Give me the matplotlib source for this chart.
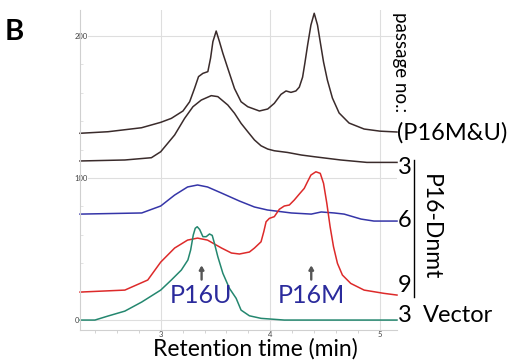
import numpy as np
import matplotlib
matplotlib.use("Agg")
import matplotlib.pyplot as plt
from matplotlib.lines import Line2D

plt.rcParams['font.family'] = ['Lato', 'DejaVu Sans']

# retention time (min) / signal
mu_x = [2.264, 2.52, 2.825, 3.0, 3.097, 3.203, 3.264, 3.309, 3.345, 3.385, 3.43, 3.455, 3.476,
        3.506, 3.536, 3.567, 3.612, 3.673, 3.733, 3.794, 3.9, 3.976, 4.036, 4.097, 4.143, 4.188,
        4.233, 4.264, 4.294, 4.315, 4.34, 4.37, 4.4, 4.43, 4.455, 4.485, 4.52, 4.566, 4.627,
        4.718, 4.855, 5.0, 5.155]
mu_y = [131.5, 132.6, 135.4, 139.2, 142, 147.2, 153.7, 163.2, 171.4, 173.7, 174.9, 184.5, 196,
        203.5, 196, 187.8, 177.2, 163, 153.7, 150.2, 147.2, 148.6, 152.6, 158.9, 161.3, 160.3,
        161.3, 164, 171, 181, 193.7, 207.7, 216, 207.7, 195.8, 181.7, 169, 156.3, 145.8,
        138.7, 134.5, 133, 132.4]

p3_x = [2.264, 2.673, 2.915, 3.0, 3.127, 3.218, 3.294, 3.37, 3.461, 3.521, 3.612, 3.673, 3.733,
        3.794, 3.855, 3.915, 3.976, 4.036, 4.157, 4.282, 4.4, 4.642, 4.88, 5.155]
p3_y = [112, 112.7, 114.3, 118.5, 130.3, 142, 150.2, 154.9, 158, 157.3, 151.4, 145.6, 138.5,
        132.6, 126.8, 122.7, 120.4, 119.2, 118, 116.2, 115, 112.7, 111, 111]

p6_x = [2.264, 2.827, 3.0, 3.127, 3.245, 3.336, 3.427, 3.555, 3.718, 3.855, 3.973, 4.191,
        4.373, 4.464, 4.582, 4.673, 4.827, 4.945, 5.155]
p6_y = [74.6, 75.4, 80.3, 88.0, 93.7, 95.1, 93.7, 89.4, 83.8, 79.6, 77.5, 75.4,
        74.6, 76.1, 75.4, 74.6, 71.1, 69.7, 69.7]

p9_x = [2.264, 2.673, 2.882, 3.0, 3.127, 3.245, 3.336, 3.427, 3.555, 3.645, 3.718, 3.809,
        3.855, 3.915, 3.94, 3.961, 3.991, 4.036, 4.082, 4.127, 4.173, 4.218, 4.264, 4.309,
        4.339, 4.37, 4.415, 4.455, 4.485, 4.515, 4.545, 4.576, 4.612, 4.657, 4.733, 4.855,
        5.036, 5.155]
p9_y = [19.7, 21.1, 28.2, 40.8, 50.7, 56.3, 57.7, 56.3, 50.7, 47.2, 46.5, 47.9,
        50.7, 55.1, 62.2, 69.2, 71.6, 72.8, 78, 80.3, 81, 84.5, 88.7, 92.7,
        97.4, 102.1, 104.4, 103.3, 96.3, 82.2, 65.7, 51.6, 39.9, 31.7, 25.8, 21.1,
        18.8, 17.6]

vec_x = [2.264, 2.4, 2.518, 2.673, 2.827, 3.0, 3.097, 3.188, 3.248, 3.273, 3.297, 3.315, 3.333,
         3.355, 3.385, 3.415, 3.445, 3.47, 3.49, 3.521, 3.567, 3.627, 3.688, 3.733, 3.809,
         3.915, 4.127, 4.536, 5.155]
vec_y = [0, 0, 2.8, 6.3, 12.7, 21.1, 28.2, 35.2, 42.3, 49.3, 59.9, 64.6, 65.7,
         63.8, 58.7, 58.7, 60.6, 59.6, 54, 44.6, 32.9, 22.3, 15.3, 7, 3,
         1.2, 0, 0, 0]

traces = [(mu_x, mu_y, '#3a2b2b'), (p3_x, p3_y, '#3a2b2b'), (p6_x, p6_y, '#3535a8'),
          (p9_x, p9_y, '#dd2a2a'), (vec_x, vec_y, '#24876f')]

fig = plt.figure(figsize=(5.17, 3.64), dpi=100)
ax = fig.add_axes([80 / 517, 1 - 330 / 364, 317 / 517, 320 / 364])

for xs, ys, c in traces:
    ax.plot(xs, ys, color=c, lw=1.1, clip_on=False, solid_joinstyle='round')

ax.set_xlim(2.264, 5.155)
ax.set_ylim(-7, 218.3)
ax.set_xticks([3, 4, 5])
ax.set_yticks([0, 100, 200])
ax.set_xticks(np.arange(2.4, 5.1, 0.2), minor=True)
ax.set_yticks(np.arange(0, 220, 20), minor=True)
ax.grid(True, which='major', color='#dedede', lw=0.8)
ax.tick_params(which='both', length=0, labelsize=5.5, labelcolor='#444444')
ax.tick_params(axis='x', which='minor', length=2, color='#cccccc', direction='out')
ax.tick_params(axis='y', which='minor', length=2, color='#dddddd', direction='in')
ax.tick_params(axis='x', pad=1)
ax.tick_params(axis='y', pad=4)
for lab in ax.get_yticklabels():
    lab.set_ha('left')
    lab.set_bbox(dict(facecolor='white', edgecolor='none', pad=0))
for s in ['top', 'right']:
    ax.spines[s].set_visible(False)
for s in ['left', 'bottom']:
    ax.spines[s].set_color('#d0d0d0')
    ax.spines[s].set_linewidth(0.8)

# peak labels
navy = '#2b2b9c'
ax.text(3.364, 17.6, 'P16U', color=navy, fontsize=18, ha='center', va='center')
ax.text(4.373, 17.6, 'P16M', color=navy, fontsize=18, ha='center', va='center')
for xa in [3.373, 4.373]:
    ax.annotate('', xy=(xa, 38.5), xytext=(xa, 28.5),
                arrowprops=dict(arrowstyle='-|>,head_width=0.13,head_length=0.22',
                                color='#555555', lw=1.7, shrinkA=0, shrinkB=0))

def fx(px):
    return px / 517

def fy(py):
    return 1 - py / 364

fig.text(fx(5), fy(32), 'B', fontsize=21, fontweight='bold', ha='left', va='center')
fig.text(fx(255), fy(349), 'Retention time (min)', fontsize=16.5, ha='center', va='center')
fig.text(fx(401), fy(62), 'passage no.:', fontsize=13.5, rotation=270, ha='center', va='center')
fig.text(fx(397), fy(133), '(P16M&U)', fontsize=17, ha='left', va='center')
fig.text(fx(398), fy(168), '3', fontsize=17, ha='left', va='center')
fig.text(fx(398), fy(221), '6', fontsize=17, ha='left', va='center')
fig.text(fx(398), fy(285), '9', fontsize=17, ha='left', va='center')
fig.text(fx(398), fy(316), '3', fontsize=17, ha='left', va='center')
fig.text(fx(423), fy(316), 'Vector', fontsize=17, ha='left', va='center')
fig.text(fx(430), fy(227), 'P16-Dnmt', fontsize=16.5, rotation=270, ha='center', va='center')
fig.add_artist(Line2D([fx(414), fx(414)], [fy(160), fy(297)], color='black', lw=1.0))

fig.savefig('out.png', dpi=100)
